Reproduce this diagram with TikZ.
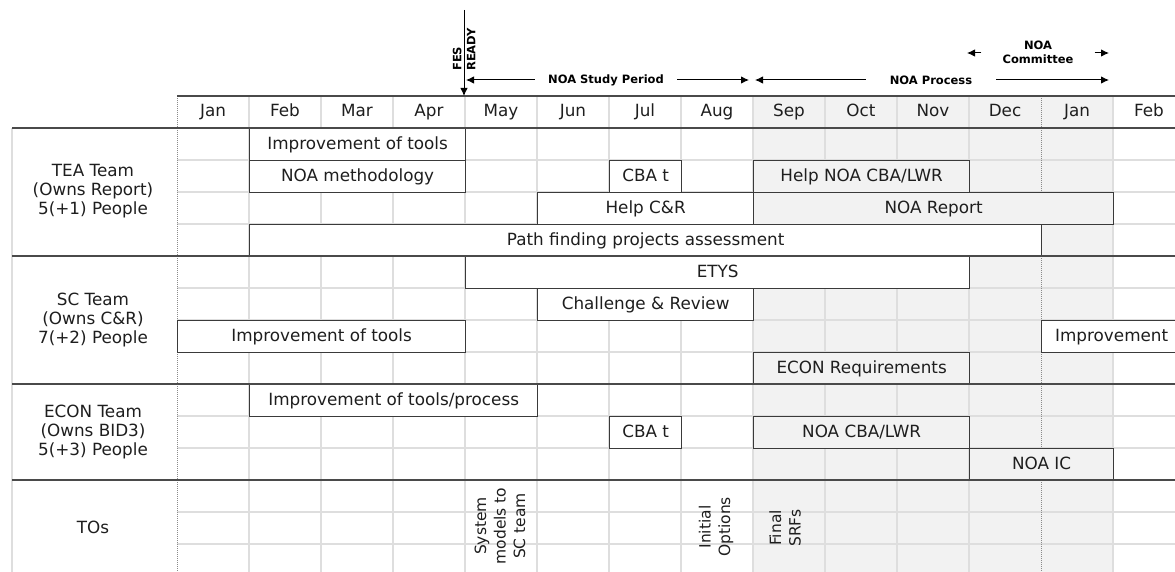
\documentclass[tikz,border=0pt]{standalone}
\usepackage{fontspec}
\setmainfont{DejaVu Sans}
\usetikzlibrary{arrows.meta}
\definecolor{gridc}{HTML}{DEDEDE}
\definecolor{shadec}{HTML}{F2F2F2}
\definecolor{boxc}{HTML}{3A3A3A}
\definecolor{secc}{HTML}{4A4A4A}
\definecolor{txt}{HTML}{1E1E1E}
\definecolor{dotc}{HTML}{8A8A8A}
\begin{document}
\begin{tikzpicture}[x=1pt,y=-1pt,
  txtfont/.style={font=\fontsize{16.8}{19}\selectfont, text=txt},
  bar/.style={txtfont, draw=boxc, line width=1.3pt, fill=white, minimum height=32pt, inner sep=0pt, text height=12.5pt, text depth=3.5pt, anchor=north west},
  gbar/.style={bar, fill=shadec},
  lab/.style={txtfont, align=center, inner sep=0pt},
  rlab/.style={font=\fontsize{15.5}{19.5}\selectfont, text=txt, align=center, inner sep=0pt, rotate=90},
  month/.style={txtfont, inner sep=0pt, text height=12.5pt, text depth=3.5pt},
  hb/.style={font=\fontsize{11.5}{14}\selectfont\bfseries, text=black, inner ysep=0pt, align=center},
  arr/.style={-{Latex[length=8pt,width=7.5pt]}, line width=1pt, black},
  gridl/.style={draw=gridc, line width=1.2pt},
  secl/.style={draw=secc, line width=1.8pt},
  dotl/.style={draw=dotc, line width=1pt, dash pattern=on 1pt off 1pt}
]
\useasboundingbox (0,0) rectangle (1175,572);
\clip (0,0) rectangle (1175,572);
\fill[white] (0,0) rectangle (1175,572);
% shaded NOA period
\fill[shadec] (753,96) rectangle (1113,572);
% grid
\foreach \x in {249,321,393,465,537,609,681,753,825,897,969,1113}
  \draw[gridl] (\x,96) -- (\x,572);
\foreach \y in {160,192,224,288,320,352,416,448,512,544}
  \draw[gridl] (177,\y) -- (1175,\y);
\draw[gridl] (12,128) -- (12,572);
\draw[dotl] (177,96) -- (177,572);
\draw[dotl] (1041,96) -- (1041,572);
% header line
\draw[draw=secc, line width=1.3pt] (177,96) -- (1175,96);
% months
\foreach \m [count=\i] in {Jan,Feb,Mar,Apr,May,Jun,Jul,Aug,Sep,Oct,Nov,Dec,Jan,Feb}
  \node[month] (m\i) at ({177+72*(\i-1)+36},112) {\m};

% TEA bars
\node[bar, minimum width=216pt] (tea1) at (249,128) {Improvement of tools};
\node[bar, minimum width=216pt] (tea2) at (249,160) {NOA methodology};
\node[bar, minimum width=72pt] (tea3) at (609,160) {CBA t};
\node[gbar, minimum width=216pt] (tea4) at (753,160) {Help NOA CBA/LWR};
\node[bar, minimum width=216pt] (tea5) at (537,192) {Help C\&R};
\node[gbar, minimum width=360pt] (tea6) at (753,192) {NOA Report};
\node[bar, minimum width=792pt] (tea7) at (249,224) {Path finding projects assessment};
% SC bars
\node[bar, minimum width=504pt] (sc1) at (465,256) {ETYS};
\node[bar, minimum width=216pt] (sc2) at (537,288) {Challenge \& Review};
\node[bar, minimum width=288pt] (sc3) at (177,320) {Improvement of tools};
\node[bar, minimum width=140pt] (sc4) at (1041,320) {Improvement};
\node[gbar, minimum width=216pt] (sc5) at (753,352) {ECON Requirements};
% ECON bars
\node[bar, minimum width=288pt] (ec1) at (249,384) {Improvement of tools/process};
\node[bar, minimum width=72pt] (ec2) at (609,416) {CBA t};
\node[gbar, minimum width=216pt] (ec3) at (753,416) {NOA CBA/LWR};
\node[gbar, minimum width=144pt] (ec4) at (969,448) {NOA IC};

% section lines
\foreach \y in {128,256,384,480}
  \draw[secl] (12,\y) -- (1175,\y);

% team labels
\node[lab] (tea) at (93,191) {TEA Team\\(Owns Report)\\5(+1) People};
\node[lab] (sc) at (93,320) {SC Team\\(Owns C\&R)\\7(+2) People};
\node[lab] (econ) at (93,432) {ECON Team\\(Owns BID3)\\5(+3) People};
\node[lab] (tos) at (93,527) {TOs};

% TO milestones
\node[rlab] (to1) at (500,526) {System\\models to\\SC team};
\node[rlab] (to2) at (716,527) {Initial\\Options};
\node[rlab] (to3) at (785,528) {Final\\SRFs};

% FES ready
\coordinate (festop) at (464,10);
\coordinate (fesbot) at (464,96);
\draw[arr] (festop) -- (fesbot);
\node[hb, rotate=90, anchor=west, align=left, inner sep=0pt] (fes) at (464,71) {FES\\READY};

% NOA Study Period
\node[hb, inner xsep=13pt] (study) at (606,80) {NOA Study Period};
\coordinate (studyL) at (466,80);
\coordinate (studyR) at (749,80);
\draw[arr] (study.west) -- (studyL);
\draw[arr] (study.east) -- (studyR);

% NOA Process
\node[hb, inner xsep=24pt] (proc) at (931,80) {NOA Process};
\coordinate (procL) at (755,80);
\coordinate (procR) at (1109,80);
\draw[arr] (proc.west) -- (procL);
\draw[arr] (proc.east) -- (procR);

% NOA Committee
\node[hb, inner xsep=21pt] (comm) at (1038,52) {NOA\\Committee};
\coordinate (commL) at (967,53);
\coordinate (commR) at (1109,53);
\draw[arr] (comm.west |- commL) -- (commL);
\draw[arr] (comm.east |- commR) -- (commR);
\end{tikzpicture}
\end{document}
